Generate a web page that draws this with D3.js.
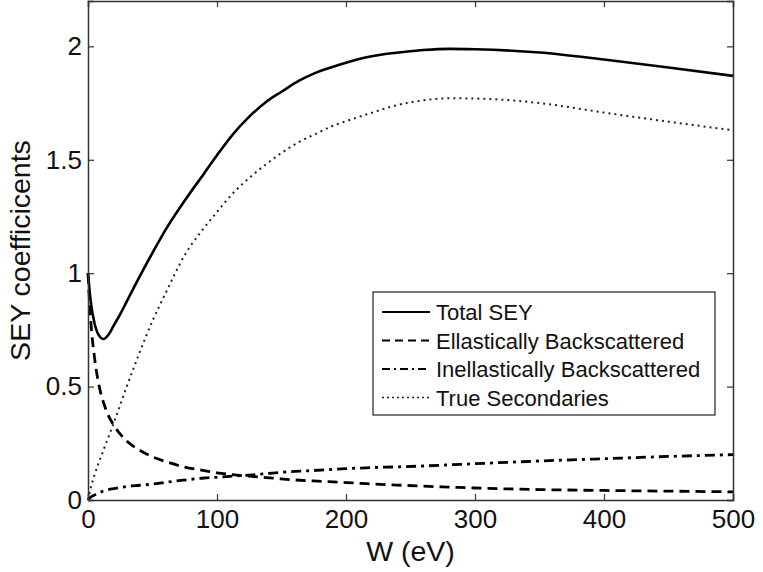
<!DOCTYPE html>
<html>
<head>
<meta charset="utf-8">
<script src="https://cdn.jsdelivr.net/npm/d3@7"></script>
<style>
  body { margin: 0; background: #fff; }
  text { font-family: "Liberation Sans", Arial, sans-serif; fill: #111; }
</style>
</head>
<body>
<div id="chart"></div>
<script>
"use strict";

const energies = [0, 2, 5, 8, 12, 16, 20, 25, 30, 40, 50, 60, 75, 90, 100, 112, 125, 138, 150, 164, 175, 190, 200, 216, 239, 260, 280, 300, 350, 400, 450, 500];

// SEY components.
const totalSEY = [1.00, 0.88, 0.78, 0.73, 0.71, 0.73, 0.77, 0.82, 0.875, 0.985, 1.09, 1.19, 1.32, 1.44, 1.52, 1.61, 1.69, 1.755, 1.80, 1.85, 1.88, 1.91, 1.928, 1.952, 1.972, 1.984, 1.989, 1.987, 1.973, 1.942, 1.907, 1.87];
const elastic = [1.00, 0.80, 0.63, 0.52, 0.43, 0.37, 0.33, 0.29, 0.26, 0.22, 0.19, 0.17, 0.145, 0.13, 0.12, 0.112, 0.105, 0.099, 0.093, 0.087, 0.084, 0.08, 0.077, 0.072, 0.066, 0.061, 0.057, 0.053, 0.046, 0.042, 0.039, 0.036];
const inelastic = [0, 0.012, 0.022, 0.03, 0.04, 0.046, 0.05, 0.055, 0.06, 0.065, 0.07, 0.078, 0.088, 0.097, 0.10, 0.105, 0.11, 0.116, 0.122, 0.127, 0.13, 0.135, 0.138, 0.142, 0.146, 0.15, 0.155, 0.16, 0.172, 0.182, 0.192, 0.20];
const trueSecondaries = [0, 0.05, 0.11, 0.16, 0.22, 0.28, 0.34, 0.42, 0.50, 0.65, 0.79, 0.91, 1.08, 1.20, 1.27, 1.35, 1.42, 1.48, 1.53, 1.58, 1.61, 1.65, 1.67, 1.70, 1.74, 1.762, 1.771, 1.77, 1.75, 1.708, 1.668, 1.63];

const seriesNames = ["Total SEY", "Ellastically Backscattered", "Inellastically Backscattered", "True Secondaries"];
const xTicks = [0, 100, 200, 300, 400, 500];
const yTicks = [0, 0.5, 1, 1.5, 2];

const width = 763, height = 572;
const margin = { left: 88, right: 30, top: 1, bottom: 72 };

const svg = d3.select("#chart").append("svg")
  .attr("width", width)
  .attr("height", height);

const x = d3.scaleLinear().domain([0, 500]).range([margin.left, width - margin.right]);
const y = d3.scaleLinear().domain([0, 2.2]).range([height - margin.bottom, margin.top]);

// Line styles for each series (solid, dashed, dash-dot, dotted).
const styles = [
  { dash: null, w: 2.6, colour: "#000" },
  { dash: "10,6", w: 2.8, colour: "#000" },
  { dash: "10,5,3,5", w: 2.8, colour: "#000" },
  { dash: "2,4", w: 2, colour: "#222" }
];
const allSeries = [totalSEY, elastic, inelastic, trueSecondaries];

const line = d3.line()
  .x(d => x(d[0]))
  .y(d => y(d[1]))
  .curve(d3.curveMonotoneX);

const plot = svg.append("g");
allSeries.forEach((vals, i) => {
  plot.append("path")
    .datum(energies.map((w, j) => [w, vals[j]]))
    .attr("fill", "none")
    .attr("stroke", styles[i].colour)
    .attr("stroke-width", styles[i].w)
    .attr("stroke-dasharray", styles[i].dash)
    .attr("d", line);
});

// Axes: ticks pointing inward, mirrored on top/right like a boxed plot.
const tickLen = 6;
const axisColour = "#333";
const fontSize = 26;
const titleSize = 28.5; // labels are ~1.1x the tick font

const axisBottomG = svg.append("g").attr("transform", `translate(0,${y(0)})`)
  .call(d3.axisBottom(x).tickValues(xTicks).tickSize(-tickLen).tickPadding(10).tickFormat(d3.format("d")));
const axisTopG = svg.append("g").attr("transform", `translate(0,${y(2.2)})`)
  .call(d3.axisTop(x).tickValues(xTicks).tickSize(-tickLen).tickFormat(""));
const axisLeftG = svg.append("g").attr("transform", `translate(${x(0)},0)`)
  .call(d3.axisLeft(y).tickValues(yTicks).tickSize(-tickLen).tickPadding(6).tickFormat(d => d));
const axisRightG = svg.append("g").attr("transform", `translate(${x(500)},0)`)
  .call(d3.axisRight(y).tickValues(yTicks).tickSize(-tickLen).tickFormat(""));

[axisBottomG, axisTopG, axisLeftG, axisRightG].forEach(g => {
  g.select(".domain").attr("stroke", axisColour).attr("stroke-width", 1.5);
  g.selectAll(".tick line").attr("stroke", axisColour).attr("stroke-width", 1.2);
  g.selectAll(".tick text")
    .attr("fill", "#111")
    .style("font-size", fontSize + "px")
    .style("font-family", '"Liberation Sans", Arial, sans-serif');
});

// Axis titles
svg.append("text")
  .attr("x", (x(0) + x(500)) / 2)
  .attr("y", 561)
  .attr("text-anchor", "middle")
  .style("font-size", titleSize + "px")
  .text("W (eV)");

svg.append("text")
  .attr("transform", `translate(30,${(y(0) + y(2.2)) / 2}) rotate(-90)`)
  .attr("text-anchor", "middle")
  .style("font-size", titleSize + "px")
  .text("SEY coefficicents");

// Legend
const legend = svg.append("g");
legend.append("rect")
  .attr("x", 373).attr("y", 292)
  .attr("width", 342).attr("height", 123)
  .attr("fill", "#fff")
  .attr("stroke", "#222")
  .attr("stroke-width", 1.2);

seriesNames.forEach((name, i) => {
  const baseline = 320 + i * 28.5;
  legend.append("line")
    .attr("x1", 382).attr("x2", 430)
    .attr("y1", baseline - 8).attr("y2", baseline - 8)
    .attr("stroke", styles[i].colour)
    .attr("stroke-width", i === 3 ? 1.5 : 2)
    .attr("stroke-dasharray", i === 0 ? null : (i === 1 ? "8,5" : (i === 2 ? "8,4,2,4" : "2,3")));
  legend.append("text")
    .attr("x", 436)
    .attr("y", baseline)
    .style("font-size", "22px")
    .text(name);
});
</script>
</body>
</html>
